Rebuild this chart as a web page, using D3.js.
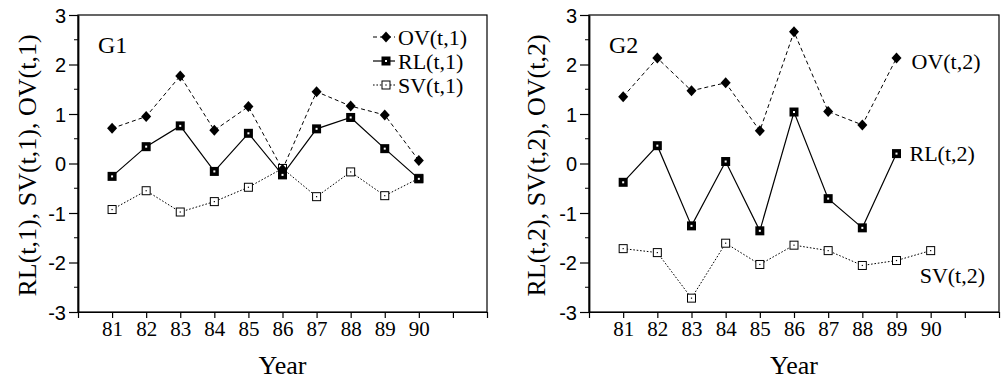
<!DOCTYPE html>
<html>
<head>
<meta charset="utf-8">
<script src="https://cdn.jsdelivr.net/npm/d3@7"></script>
<style>
  body { margin: 0; background: #fff; }
  svg { display: block; }
</style>
</head>
<body>
<svg id="chart" width="1005" height="380"></svg>
<script>
  // ---- Data ----
  const years = [81, 82, 83, 84, 85, 86, 87, 88, 89, 90];
  const yTicks = [-3, -2, -1, 0, 1, 2, 3];

  // G1
  const ov1 = [0.71, 0.95, 1.77, 0.67, 1.15, -0.12, 1.45, 1.16, 0.98, 0.06];
  const rl1 = [-0.26, 0.34, 0.76, -0.16, 0.61, -0.23, 0.70, 0.93, 0.30, -0.31];
  const sv1 = [-0.93, -0.55, -0.98, -0.77, -0.48, -0.10, -0.67, -0.17, -0.65, -0.30];

  // G2 (OV and RL stop at 89)
  const ov2 = [1.35, 2.13, 1.47, 1.63, 0.66, 2.66, 1.05, 0.78, 2.13, null];
  const rl2 = [-0.38, 0.36, -1.26, 0.04, -1.36, 1.04, -0.71, -1.30, 0.20, null];
  const sv2 = [-1.72, -1.80, -2.72, -1.61, -2.04, -1.65, -1.76, -2.06, -1.96, -1.76];

  const SERIF = '"Liberation Serif", "Times New Roman", Times, serif';
  const SANS = '"Liberation Sans", Arial, Helvetica, sans-serif';

  const svg = d3.select("#chart");

  // ---- Markers ----
  function drawMarker(g, kind, x, y) {
    if (kind === "OV") {
      g.append("path")
        .attr("d", `M${x},${y - 5.5}L${x + 5},${y}L${x},${y + 5.5}L${x - 5},${y}Z`)
        .attr("fill", "#000");
    } else if (kind === "RL") {
      g.append("rect").attr("x", x - 4.5).attr("y", y - 4.5).attr("width", 9).attr("height", 9)
        .attr("fill", "#000");
      g.append("rect").attr("x", x - 1).attr("y", y - 1).attr("width", 2).attr("height", 2)
        .attr("fill", "#fff");
    } else {
      g.append("rect").attr("x", x - 4).attr("y", y - 4).attr("width", 8).attr("height", 8)
        .attr("fill", "#fff").attr("stroke", "#000").attr("stroke-width", 1);
      g.append("rect").attr("x", x - 0.6).attr("y", y - 0.6).attr("width", 1.2).attr("height", 1.2)
        .attr("fill", "#000");
    }
  }

  const STYLE = {
    OV: { dash: "4,3", width: 1 },
    RL: { dash: null, width: 1.2 },
    SV: { dash: "1.6,1.8", width: 1 },
  };

  function drawPanel(opts) {
    const { left, right, top, bottom } = opts;
    const x = d3.scaleLinear().domain([80, 92]).range([left, right]);
    const y = d3.scaleLinear().domain([-3, 3]).range([bottom, top]);
    const g = svg.append("g");

    // frame
    g.append("rect").attr("x", left).attr("y", top)
      .attr("width", right - left).attr("height", bottom - top)
      .attr("fill", "none").attr("stroke", "#000").attr("stroke-width", 1.2);

    // y axis: major ticks + half minor ticks
    const yAxis = d3.axisLeft(y).tickValues(yTicks).tickSize(9).tickSizeOuter(0)
      .tickFormat((d) => String(d));
    const ya = g.append("g").attr("transform", `translate(${left},0)`).call(yAxis);
    ya.select(".domain").attr("stroke-width", 1.8);
    ya.selectAll(".tick line").attr("stroke-width", 1.2);
    ya.selectAll("text").attr("font-family", SANS).attr("font-size", 20).attr("x", -12)
      .attr("fill", "#000").attr("dy", "0.36em");
    const minor = d3.range(-2.5, 3, 1);
    g.selectAll(".ymin").data(minor).join("line")
      .attr("x1", left - 4).attr("x2", left)
      .attr("y1", (d) => y(d)).attr("y2", (d) => y(d))
      .attr("stroke", "#000").attr("stroke-width", 1);

    // x axis
    const xAxis = d3.axisBottom(x).tickValues(d3.range(80, 93)).tickSize(6).tickSizeOuter(0)
      .tickFormat((d) => (years.includes(d) ? d : ""));
    const xa = g.append("g").attr("transform", `translate(0,${bottom})`).call(xAxis);
    xa.select(".domain").attr("stroke-width", 1.2);
    xa.selectAll("line").attr("stroke-width", 1.2);
    xa.selectAll("text").attr("font-family", SERIF).attr("font-size", 21).attr("fill", "#000")
      .attr("y", 9).attr("dy", "0.71em");

    // axis titles
    g.append("text").attr("font-family", SERIF).attr("font-size", 26)
      .attr("x", x(86)).attr("y", 374).attr("text-anchor", "middle").text("Year");
    g.append("text").attr("font-family", SERIF).attr("font-size", 26)
      .attr("transform", `translate(${opts.yLabelX},${(top + bottom) / 2 + 2}) rotate(-90)`)
      .attr("text-anchor", "middle").attr("dy", "0.35em").text(opts.yLabel);

    g.append("text").attr("font-family", SERIF).attr("font-size", 24)
      .attr("x", left + 20).attr("y", top + 38).text(opts.tag);

    // series
    opts.series.forEach((s) => {
      const pts = years.map((yr, i) => [yr, s.values[i]]).filter((p) => p[1] != null);
      const line = d3.line().x((p) => x(p[0])).y((p) => y(p[1]));
      g.append("path").datum(pts).attr("d", line)
        .attr("fill", "none").attr("stroke", "#000")
        .attr("stroke-width", STYLE[s.kind].width)
        .attr("stroke-dasharray", STYLE[s.kind].dash);
    });
    opts.series.forEach((s) => {
      years.forEach((yr, i) => {
        if (s.values[i] != null) drawMarker(g, s.kind, x(years[i]), y(s.values[i]));
      });
    });

    return { g, x, y };
  }

  // ---- Left panel ----
  const p1 = drawPanel({
    left: 78, right: 487, top: 15, bottom: 312,
    yLabelX: 27, yLabel: "RL(t,1), SV(t,1), OV(t,1)", tag: "G1",
    series: [
      { kind: "SV", values: sv1 },
      { kind: "OV", values: ov1 },
      { kind: "RL", values: rl1 },
    ],
  });

  // legend
  const legend = [
    { kind: "OV", label: "OV(t,1)" },
    { kind: "RL", label: "RL(t,1)" },
    { kind: "SV", label: "SV(t,1)" },
  ];
  legend.forEach((d, i) => {
    const ly = 37 + i * 24;
    p1.g.append("line").attr("x1", 373).attr("x2", 395).attr("y1", ly).attr("y2", ly)
      .attr("stroke", "#000").attr("stroke-width", STYLE[d.kind].width)
      .attr("stroke-dasharray", STYLE[d.kind].dash);
    drawMarker(p1.g, d.kind, 386, ly);
    p1.g.append("text").attr("font-family", SERIF).attr("font-size", 22)
      .attr("x", 398).attr("y", ly).attr("dy", "0.35em").text(d.label);
  });

  // ---- Right panel ----
  const p2 = drawPanel({
    left: 589, right: 999, top: 15, bottom: 312,
    yLabelX: 536, yLabel: "RL(t,2), SV(t,2), OV(t,2)", tag: "G2",
    series: [
      { kind: "SV", values: sv2 },
      { kind: "OV", values: ov2 },
      { kind: "RL", values: rl2 },
    ],
  });

  // end labels
  const endLabels = [
    { label: "OV(t,2)", values: ov2, i: 8, dx: 15, dy: 3 },
    { label: "RL(t,2)", values: rl2, i: 8, dx: 13, dy: 0 },
    { label: "SV(t,2)", values: sv2, i: 9, dx: -11, dy: 25 },
  ];
  endLabels.forEach((d) => {
    p2.g.append("text").attr("font-family", SERIF).attr("font-size", 22)
      .attr("x", p2.x(years[d.i]) + d.dx).attr("y", p2.y(d.values[d.i]) + d.dy)
      .attr("dy", "0.35em").text(d.label);
  });
</script>
</body>
</html>
